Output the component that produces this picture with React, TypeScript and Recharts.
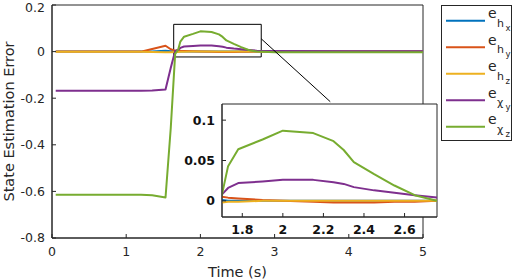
import { LineChart, Line, XAxis, YAxis, ReferenceArea, ReferenceLine, Label } from 'recharts'

// time stamps (s)
const time = [0.05, 1.2, 1.35, 1.53, 1.6, 1.66, 1.7, 1.73, 1.78, 1.9, 2.0, 2.15, 2.25, 2.3, 2.35, 2.45, 2.55, 2.65, 2.76, 3.0, 4.0, 5.0]

const eHx = [0, 0, 0, 0.004, 0.002, 0, 0.001, 0, 0, 0, 0, 0, 0, 0, 0, 0, 0, 0, 0, 0, 0, 0]
const eHy = [0, 0, 0.011, 0.025, 0.01, 0.004, 0.005, 0.004, 0.003, 0.001, 0, -0.001, -0.002, -0.002, -0.002, -0.002, -0.001, -0.001, 0, 0, 0, 0]
const eHz = [-0.001, -0.001, -0.002, -0.003, -0.003, -0.002, -0.002, -0.001, -0.001, 0, 0, 0, 0, 0, 0, 0, 0, 0, 0, -0.001, -0.001, -0.001]
const eChiY = [-0.168, -0.168, -0.167, -0.163, -0.07, 0.003, 0.008, 0.016, 0.022, 0.024, 0.026, 0.026, 0.023, 0.021, 0.017, 0.013, 0.01, 0.007, 0.004, 0.003, 0.002, 0.002]
const eChiZ = [-0.614, -0.614, -0.617, -0.626, -0.33, -0.01, 0.008, 0.043, 0.064, 0.076, 0.087, 0.084, 0.074, 0.063, 0.048, 0.033, 0.019, 0.007, 0, -0.003, -0.003, -0.003]

const mainXTicks = [0, 1, 2, 3, 4, 5]
const mainYTicks = [-0.8, -0.6, -0.4, -0.2, 0, 0.2]
const insetXTicks = [1.8, 2, 2.2, 2.4, 2.6]
const insetYTicks = [0, 0.05, 0.1]

const series = [
  { key: 'hx', color: '#0072BD', base: 'h', sub: 'x' },
  { key: 'hy', color: '#D95319', base: 'h', sub: 'y' },
  { key: 'hz', color: '#EDB120', base: 'h', sub: 'z' },
  { key: 'chiY', color: '#7E2F8E', base: 'χ', sub: 'y' },
  { key: 'chiZ', color: '#77AC30', base: 'χ', sub: 'z' },
]

const rows = time.map((t, i) => ({
  t,
  hx: eHx[i],
  hy: eHy[i],
  hz: eHz[i],
  chiY: eChiY[i],
  chiZ: eChiZ[i],
}))

const AX = '#262626'
const FONT = 'DejaVu Sans'

const fmt = (v: number) => String(v)

function lines() {
  return series.map(s => (
    <Line
      key={s.key}
      dataKey={s.key}
      stroke={s.color}
      strokeWidth={2}
      dot={false}
      activeDot={false}
      isAnimationActive={false}
      strokeLinejoin="round"
    />
  ))
}

function LegendBox() {
  return (
    <svg width={72} height={137} style={{ position: 'absolute', left: 441, top: 5 }}>
      <rect x={0.5} y={0.5} width={70} height={135} fill="#fff" stroke={AX} />
      {series.map((s, i) => {
        const y = 15.7 + 26.5 * i
        return (
          <g key={s.key}>
            <line x1={5} x2={44} y1={y} y2={y} stroke={s.color} strokeWidth={2} />
            <text x={47} y={y - 2.5} fontSize={14} fill={AX} fontFamily={FONT}>e</text>
            <text x={56} y={y + 6} fontSize={11} fill={AX} fontFamily={FONT}>{s.base}</text>
            <text x={64.5} y={y + 10} fontSize={8.5} fill={AX} fontFamily={FONT}>{s.sub}</text>
          </g>
        )
      })}
    </svg>
  )
}

export default function App() {
  return (
    <div style={{ position: 'absolute', left: 0, top: 0, width: 512, height: 279, background: '#fff', fontFamily: FONT }}>
      <div style={{ position: 'absolute', left: 0, top: 0 }}>
        <LineChart width={512} height={279} data={rows} margin={{ top: 5, right: 89, bottom: 0, left: 0 }}>
          <XAxis
            dataKey="t"
            type="number"
            domain={[0, 5]}
            ticks={mainXTicks}
            height={41}
            tickSize={-4}
            tickMargin={13}
            stroke={AX}
            tick={{ fill: AX, fontSize: 12.5, fontFamily: FONT }}
            allowDataOverflow
          >
            <Label value="Time (s)" position="insideBottom" offset={2} fill={AX} fontSize={14.5} fontFamily={FONT} />
          </XAxis>
          <XAxis xAxisId="top" orientation="top" type="number" domain={[0, 5]} ticks={mainXTicks} height={0} tickSize={-4} tick={false} stroke={AX} allowDataOverflow />
          <YAxis
            type="number"
            domain={[-0.8, 0.2]}
            ticks={mainYTicks}
            width={52}
            tickSize={-4}
            tickMargin={11}
            stroke={AX}
            tickFormatter={fmt}
            tick={{ fill: AX, fontSize: 12.5, fontFamily: FONT }}
            allowDataOverflow
          >
            <Label
              value="State Estimation Error"
              angle={-90}
              position="insideLeft"
              offset={9}
              fill={AX}
              fontSize={14.5}
              fontFamily={FONT}
              style={{ textAnchor: 'middle' }}
            />
          </YAxis>
          <YAxis yAxisId="right" orientation="right" type="number" domain={[-0.8, 0.2]} ticks={mainYTicks} width={0} tickSize={-4} tick={false} stroke={AX} allowDataOverflow />
          <ReferenceArea x1={0} x2={5} y1={-0.8} y2={0.2} fill="none" stroke={AX} strokeWidth={1} ifOverflow="visible" />
          {lines()}
          <ReferenceArea x1={1.64} x2={2.82} y1={-0.023} y2={0.117} fill="none" stroke="#000" strokeWidth={1} ifOverflow="visible" />
          <ReferenceLine segment={[{ x: 2.82, y: 0.055 }, { x: 3.75, y: -0.215 }]} stroke="#000" strokeWidth={1} ifOverflow="visible" />
        </LineChart>
      </div>

      {/* white backdrop of the zoomed axes */}
      <div style={{ position: 'absolute', left: 222, top: 104, width: 215, height: 113, background: '#fff' }} />

      <div style={{ position: 'absolute', left: 180, top: 100 }}>
        <LineChart width={262} height={140} data={rows} margin={{ top: 4, right: 5, bottom: 0, left: 0 }}>
          <ReferenceArea x1={1.7} x2={2.76} y1={-0.02} y2={0.12} fill="#fff" fillOpacity={1} stroke={AX} strokeWidth={1} ifOverflow="visible" />
          <XAxis
            dataKey="t"
            type="number"
            domain={[1.7, 2.76]}
            ticks={insetXTicks}
            height={23}
            tickSize={-4}
            tickMargin={12}
            stroke={AX}
            tick={{ fill: '#111', fontSize: 12.5, fontWeight: 'bold', fontFamily: FONT }}
            allowDataOverflow
          />
          <XAxis xAxisId="top" orientation="top" type="number" domain={[1.7, 2.76]} ticks={insetXTicks} height={0} tickSize={-4} tick={false} stroke={AX} allowDataOverflow />
          <YAxis
            type="number"
            domain={[-0.02, 0.12]}
            ticks={insetYTicks}
            width={42}
            tickSize={-4}
            tickMargin={11}
            stroke={AX}
            tickFormatter={fmt}
            tick={{ fill: '#111', fontSize: 12.5, fontWeight: 'bold', fontFamily: FONT }}
            allowDataOverflow
          />
          <YAxis yAxisId="right" orientation="right" type="number" domain={[-0.02, 0.12]} ticks={insetYTicks} width={0} tickSize={-4} tick={false} stroke={AX} allowDataOverflow />
          {lines()}
        </LineChart>
      </div>

      <LegendBox />
    </div>
  )
}
